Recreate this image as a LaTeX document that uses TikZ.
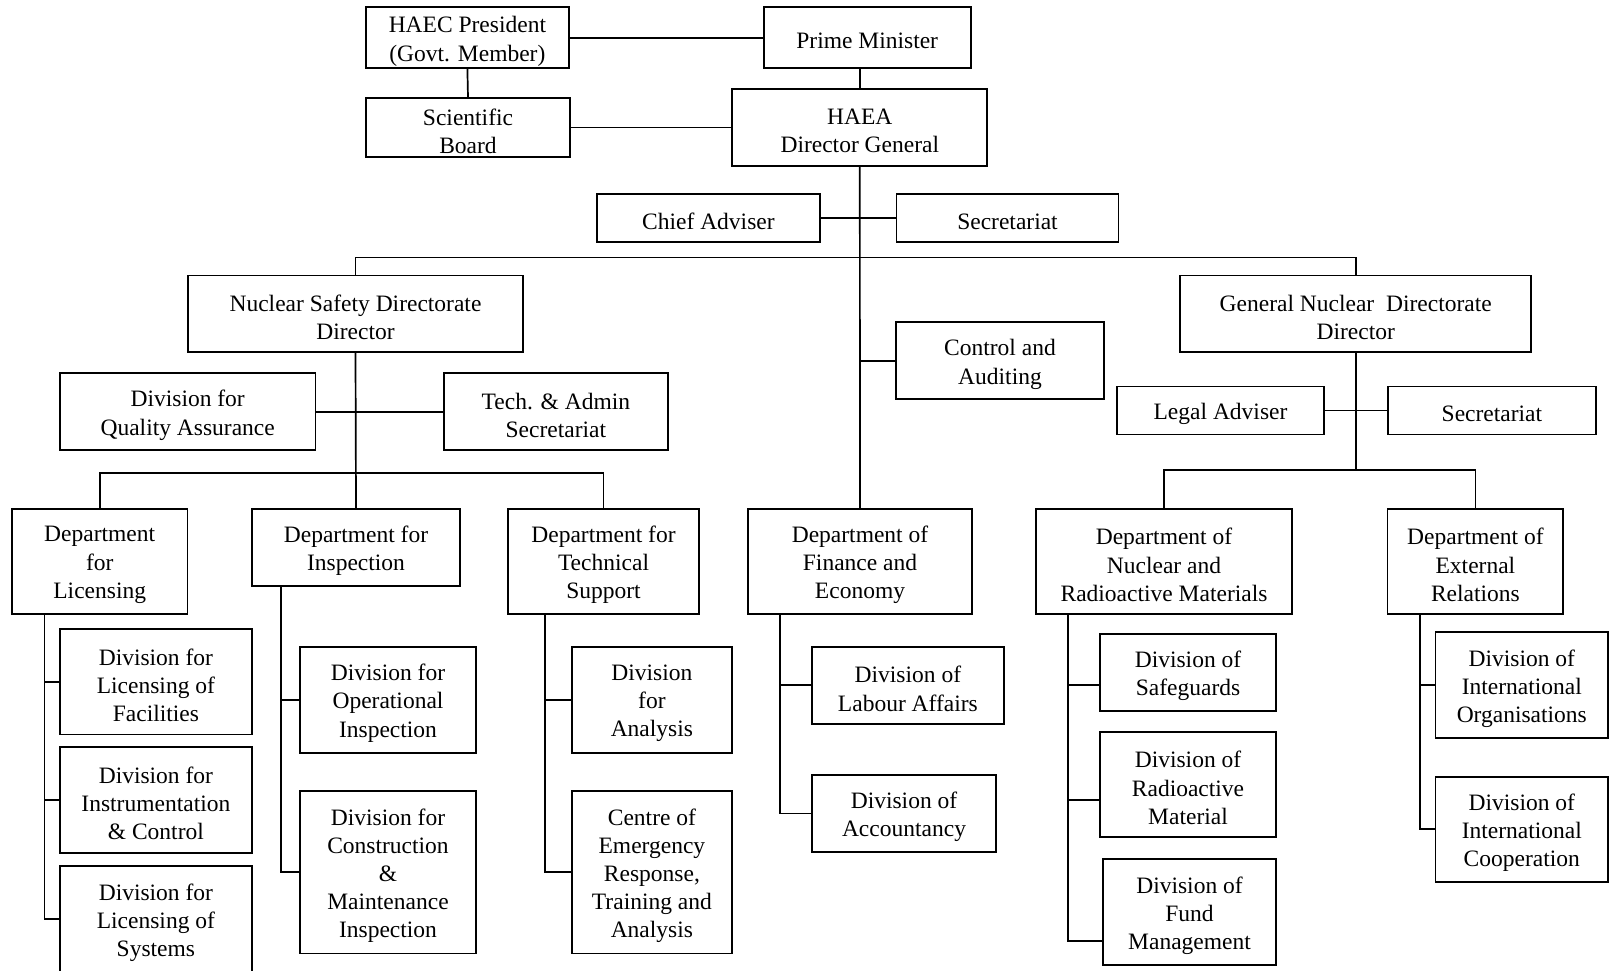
\documentclass[tikz,border=0pt]{standalone}
\usepackage{fontspec}
\setmainfont{Liberation Serif}
\tikzset{
  box/.style={draw, line width=1.7pt, inner sep=0pt},
  boxtext/.style={align=center, inner sep=0pt, font=\fontsize{23.5}{28.2}\selectfont},
  ln/.style={line width=1.7pt}
}
\newcommand\bx[6]{\node[box, minimum width=#4pt, minimum height=#5pt] (#1) at (#2,#3) {};
  \node[boxtext] (#1-t) at ([yshift=-3.5pt]#1.center) {#6};}
\begin{document}
\begin{tikzpicture}[x=1pt,y=-1pt]
\useasboundingbox (0,0) rectangle (1609,970);
% top level
\bx{HAEC}{467.4}{37.8}{203}{61}{HAEC President\\(Govt. Member)}
\bx{PM}{867.2}{37.8}{207}{61}{Prime Minister}
\bx{SB}{468}{127.5}{204}{58.4}{Scientific\\Board}
\bx{DG}{859.8}{127.5}{255}{76.4}{HAEA\\Director General}
\bx{CA}{708.4}{218}{222.7}{47.4}{Chief Adviser}
\bx{SecA}{1007.5}{218}{222}{47.4}{Secretariat}
\bx{NSD}{355.5}{313.7}{335}{76.7}{Nuclear Safety Directorate\\Director}
\bx{GND}{1355.7}{313.7}{351}{76.7}{General Nuclear\ \ Directorate\\Director}
\bx{CAud}{1000}{360.8}{208}{77}{Control and\\Auditing}
\bx{QA}{187.7}{411.8}{255.8}{77}{Division for\\Quality Assurance}
\bx{TA}{555.9}{411.8}{224}{77}{Tech. \& Admin\\Secretariat}
\bx{LA}{1220.5}{410.5}{207.5}{48}{Legal Adviser}
\bx{SecB}{1491.9}{410.5}{207.7}{48}{Secretariat}
% departments
\bx{Lic}{99.7}{561.5}{175.5}{105.6}{Department\\for\\Licensing}
\bx{Insp}{356}{547.2}{207.6}{77}{Department for\\Inspection}
\bx{TS}{603.5}{561.5}{191}{105.6}{Department for\\Technical\\Support}
\bx{FE}{860}{561.5}{224}{105.6}{Department of\\Finance and\\Economy}
\bx{NRM}{1164}{561.5}{255.7}{105.6}{Department of\\Nuclear and\\Radioactive Materials}
\bx{ER}{1475.4}{561.5}{175.7}{105.6}{Department of\\External\\Relations}
% divisions
\bx{DLF}{155.9}{681.7}{192.2}{105.3}{Division for\\Licensing of\\Facilities}
\bx{DIC}{155.9}{800}{192.2}{105.4}{Division for\\Instrumentation\\\& Control}
\bx{DLS}{155.9}{919}{192.2}{105.4}{Division for\\Licensing of\\Systems}
\bx{DOI}{388}{699.7}{176}{106}{Division for\\Operational\\Inspection}
\bx{DCM}{388}{872.2}{176}{162.3}{Division for\\Construction\\\&\\Maintenance\\Inspection}
\bx{DA}{651.9}{699.7}{159.8}{106}{Division\\for\\Analysis}
\bx{CER}{651.9}{872.2}{159.8}{162.3}{Centre of\\Emergency\\Response,\\Training and\\Analysis}
\bx{DLab}{907.9}{685.3}{191.8}{77.3}{Division of\\Labour Affairs}
\bx{DAcc}{904}{813.5}{184}{77}{Division of\\Accountancy}
\bx{DSafe}{1188}{672.5}{175.7}{77}{Division of\\Safeguards}
\bx{DRad}{1188}{784.5}{175.7}{105.6}{Division of\\Radioactive\\Material}
\bx{DFund}{1189.5}{912}{173}{106}{Division of\\Fund\\Management}
\bx{DIO}{1521.8}{685}{172.5}{105.4}{Division of\\International\\Organisations}
\bx{DIC2}{1521.8}{829.3}{172.5}{105.3}{Division of\\International\\Cooperation}
% helper coordinates
\coordinate (bar) at (0,257.5);
\coordinate (nbar) at (0,472.7);
\coordinate (gbar) at (0,470);
\coordinate (lt) at (44.5,0);
\coordinate (it) at (281.2,0);
\coordinate (tt) at (545.3,0);
\coordinate (ft) at (780,0);
\coordinate (nt) at (1068,0);
\coordinate (et) at (1420,0);
\coordinate (sy1) at (0,685.3);
\coordinate (sy2) at (0,800);
\coordinate (sy3) at (0,940.7);
% connectors top
\draw[ln] (HAEC.east) -- (PM.west);
\draw[ln] (HAEC.south) -- (SB.north);
\draw[ln] (SB.east) -- (DG.west);
\draw[ln] (DG.north) -- (DG.north |- PM.south);
\draw[ln] (DG.south) -- (FE.north);
\draw[ln] (CA.east) -- (SecA.west);
\draw[ln] (NSD.north) -- (NSD.north |- bar) -- (GND.north |- bar) -- (GND.north);
\draw[ln] (CAud.west) -- (CAud.west -| FE.north);
% nuclear safety directorate
\draw[ln] (NSD.south) -- (Insp.north);
\draw[ln] (QA.east) -- (TA.west);
\draw[ln] (Lic.north) -- (Lic.north |- nbar) -- (TS.north |- nbar) -- (TS.north);
% general nuclear directorate
\draw[ln] (GND.south) -- (GND.south |- gbar);
\draw[ln] (LA.east) -- (SecB.west);
\draw[ln] (NRM.north) -- (NRM.north |- gbar) -- (ER.north |- gbar) -- (ER.north);
% licensing
\draw[ln] (Lic.south -| lt) |- (DLS.west);
\draw[ln] (lt |- DLF.west) -- (DLF.west);
\draw[ln] (lt |- DIC.west) -- (DIC.west);
% inspection
\draw[ln] (Insp.south -| it) |- (DCM.west);
\draw[ln] (it |- DOI.west) -- (DOI.west);
% technical support
\draw[ln] (TS.south -| tt) |- (CER.west);
\draw[ln] (tt |- DA.west) -- (DA.west);
% finance
\draw[ln] (FE.south -| ft) |- (DAcc.west);
\draw[ln] (ft |- DLab.west) -- (DLab.west);
% nuclear and radioactive materials
\draw[ln] (NRM.south -| nt) -- (nt |- sy3) -- (DFund.west |- sy3);
\draw[ln] (nt |- sy1) -- (DSafe.west |- sy1);
\draw[ln] (nt |- sy2) -- (DRad.west |- sy2);
% external relations
\draw[ln] (ER.south -| et) |- (DIC2.west);
\draw[ln] (et |- DIO.west) -- (DIO.west);
\end{tikzpicture}
\end{document}
